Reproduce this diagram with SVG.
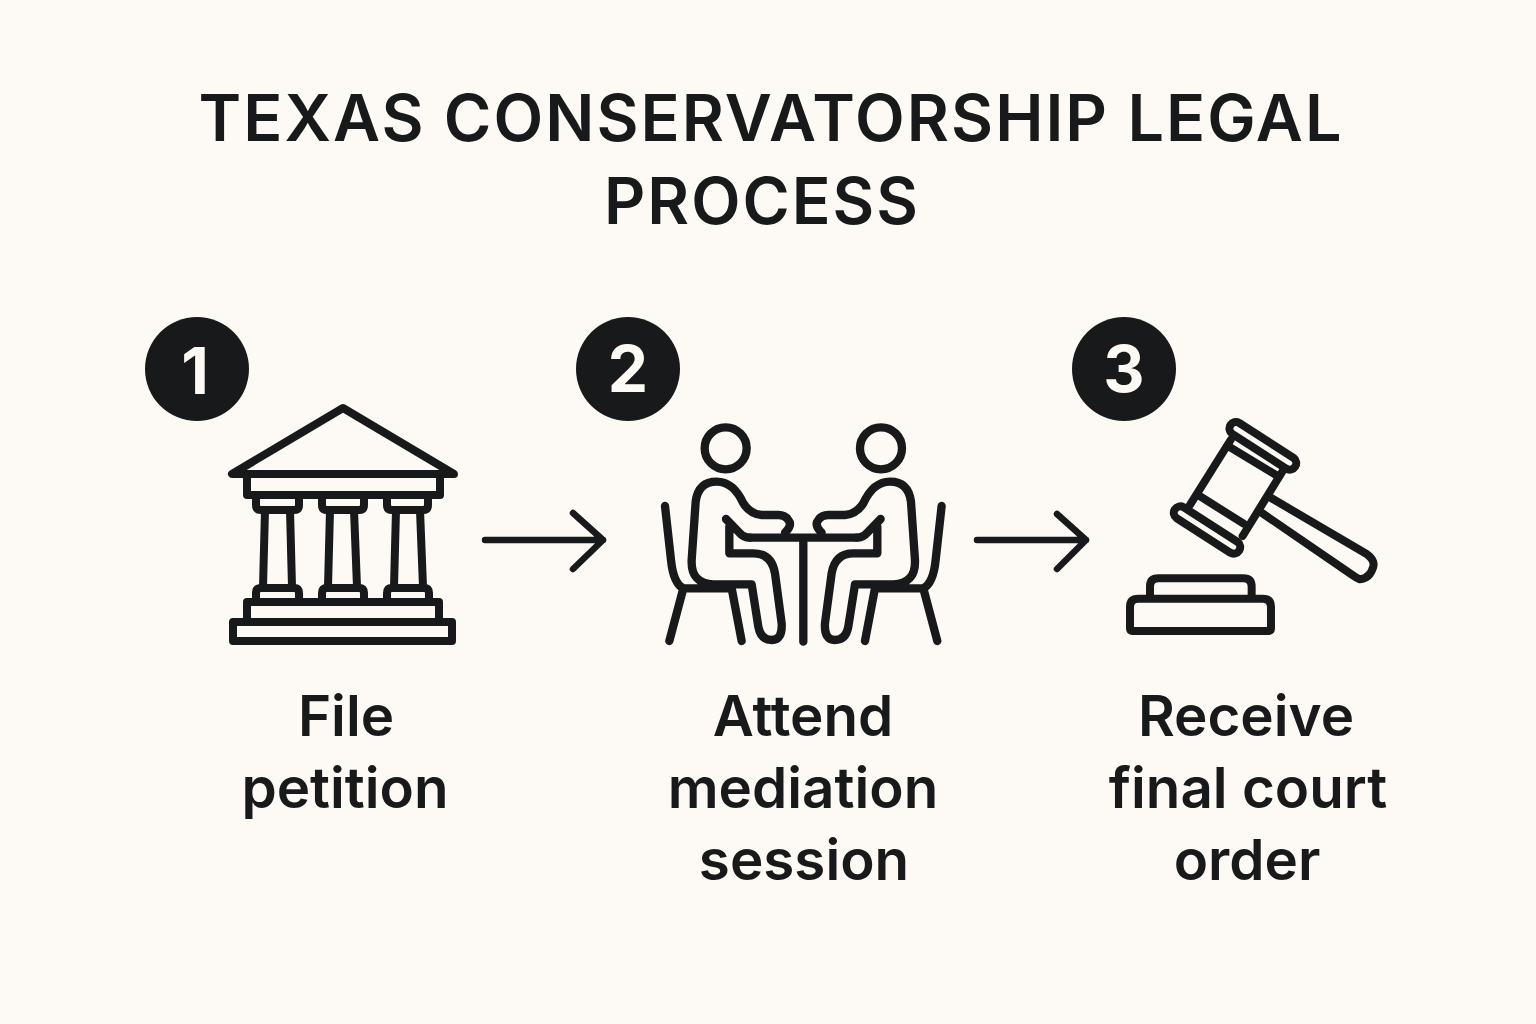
<svg xmlns="http://www.w3.org/2000/svg" width="1536" height="1024" viewBox="0 0 1536 1024">
<style>
text{font-family:Inter,"Liberation Sans",sans-serif;fill:#17191a;text-anchor:middle}
.title{font-size:64px;font-weight:600;letter-spacing:2px}
.label{font-size:56.5px;font-weight:600}
.num{font-size:64px;font-weight:700;fill:#fdfaf5}
.badge{fill:#17191a}
.ic{fill:none;stroke:#17191a;stroke-linecap:round;stroke-linejoin:round}
.conn{fill:none;stroke:#17191a;stroke-width:6.5;stroke-linecap:round;stroke-linejoin:round}
</style>
<rect width="1536" height="1024" fill="#fdfaf5"/>
<g id="title">
<text class="title" x="771" y="141" textLength="1145" lengthAdjust="spacingAndGlyphs">TEXAS CONSERVATORSHIP LEGAL</text>
<text class="title" x="762" y="224" textLength="316" lengthAdjust="spacingAndGlyphs">PROCESS</text>
</g>
<g id="connectors">
<path class="conn" d="M485 540H603M573 513L603 540L573 569"/>
<path class="conn" d="M977 540H1086M1057 514L1086 540L1057 569"/>
</g>
<g id="step1">
<circle class="badge" cx="197" cy="369" r="52"/>
<text class="num" x="195" y="394">1</text>
<g class="ic" stroke-width="8">
<path d="M343 408L232 474H454Z"/>
<path d="M247 474V495H440V474"/>
<path d="M256 495V505Q256 510 261 510H294Q299 510 299 505V495M322 495V505Q322 510 327 510H359Q364 510 364 505V495M387 495V505Q387 510 392 510H423Q428 510 428 505V495"/>
<path d="M265 510L263 587M290 510L292 587M330 510L328 587M354 510L357 587M396 510L394 587M420 510L423 587"/>
<path d="M256 602V593Q256 588 261 588H294Q299 588 299 593V602M322 602V593Q322 588 327 588H359Q364 588 364 593V602M387 602V593Q387 588 392 588H424Q429 588 429 593V602"/>
<rect x="247" y="602" width="192" height="20"/>
<rect x="233" y="622" width="219" height="19"/>
</g>
<text class="label" x="346" y="736">File</text>
<text class="label" x="345" y="808">petition</text>
</g>
<g id="step2">
<circle class="badge" cx="628" cy="369" r="52"/>
<text class="num" x="628" y="392">2</text>
<g class="ic" stroke-width="25" transform="translate(650 410) scale(.3333)">
<path d="M227 115m-63 0a63 63 0 1 0 126 0a63 63 0 1 0 -126 0M405 368Q428 345 415 330Q405 315 385 315H335Q300 312 280 280Q250 215 200 215Q145 215 137 275L125 450Q122 520 190 523H305L325 650Q332 690 365 690Q398 690 395 640L375 490Q365 430 310 430H238V350M228 327L268 368Q280 383 300 383M100 535H245M45 288L63 450Q70 520 100 535L58 693M245 535L275 693"/>
<path d="M300 383H620M460 383V695"/>
<path transform="translate(920 0) scale(-1 1)" d="M227 115m-63 0a63 63 0 1 0 126 0a63 63 0 1 0 -126 0M405 368Q428 345 415 330Q405 315 385 315H335Q300 312 280 280Q250 215 200 215Q145 215 137 275L125 450Q122 520 190 523H305L325 650Q332 690 365 690Q398 690 395 640L375 490Q365 430 310 430H238V350M228 327L268 368Q280 383 300 383M100 535H245M45 288L63 450Q70 520 100 535L58 693M245 535L275 693"/>
</g>
<text class="label" x="803" y="736">Attend</text>
<text class="label" x="803" y="808">mediation</text>
<text class="label" x="804" y="880">session</text>
</g>
<g id="step3">
<circle class="badge" cx="1124" cy="369" r="52"/>
<text class="num" x="1124" y="392">3</text>
<g class="ic" stroke-width="24" transform="translate(1110 410) scale(.3333)">
<path d="M387.5 38.6L550.5 143.6A19.5 19.5 0 0 1 529.5 176.4L366.5 71.4A19.5 19.5 0 0 1 387.5 38.6Z"/>
<path d="M220.5 291.6L382.5 395.6A19.5 19.5 0 0 1 361.5 428.4L199.5 324.4A19.5 19.5 0 0 1 220.5 291.6Z"/>
<path d="M362 90L240 285M520 180L398 378"/>
<path d="M362 113L498 195M272 260L402 342"/>
<path d="M480 262L770 432Q795 450 790 470Q780 505 750 508Q740 505 730 497L450 305"/>
<path d="M120 555V530Q120 505 145 505H400Q425 505 425 530V555"/>
<path d="M85 566H458Q483 566 483 591V655Q483 663 475 663H68Q60 663 60 655V591Q60 566 85 566Z"/>
</g>
<text class="label" x="1246" y="736">Receive</text>
<text class="label" x="1248" y="808">final court</text>
<text class="label" x="1247" y="880">order</text>
</g>
</svg>
